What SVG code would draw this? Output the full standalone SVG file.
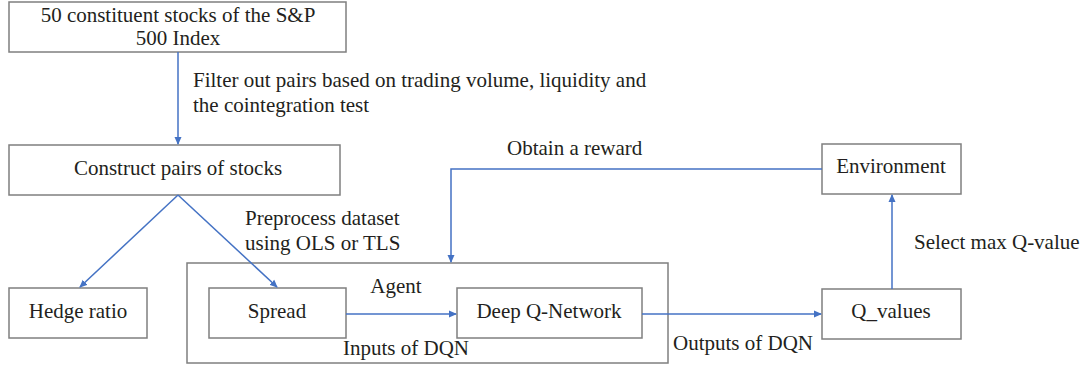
<svg xmlns="http://www.w3.org/2000/svg" width="1084" height="371" viewBox="0 0 1084 371">
<style>
.box{fill:#fff;stroke:#7f7f7f;stroke-width:1.5}
.t{font-family:"Liberation Serif","Times New Roman",serif;font-size:21px;fill:#231f20}
.c{text-anchor:middle}
.ln{fill:none;stroke:#4472c4;stroke-width:1.5}
</style>
<defs>
<marker id="ah" markerWidth="8" markerHeight="8" refX="7" refY="4" orient="auto" markerUnits="userSpaceOnUse">
<path d="M0,0.5 L8,4 L0,7.5 Z" fill="#4472c4"/>
</marker>
</defs>
<rect width="1084" height="371" fill="#fff"/>
<g id="agent">
<rect class="box" x="187" y="263" width="481" height="100"/>
<text class="t c" x="396" y="293">Agent</text>
</g>
<g id="n1">
<rect class="box" x="9" y="2" width="337" height="50"/>
<text class="t c" x="178" y="22">50 constituent stocks of the S&amp;P</text>
<text class="t c" x="178" y="45">500 Index</text>
</g>
<g id="n2">
<rect class="box" x="9" y="145" width="331" height="50"/>
<text class="t c" x="178" y="175">Construct pairs of stocks</text>
</g>
<g id="hedge">
<rect class="box" x="9" y="288" width="138" height="50"/>
<text class="t c" x="78" y="318">Hedge ratio</text>
</g>
<g id="spread">
<rect class="box" x="209" y="288" width="137" height="50"/>
<text class="t c" x="277" y="318">Spread</text>
</g>
<g id="dqn">
<rect class="box" x="457" y="288" width="185" height="50"/>
<text class="t c" x="549" y="318">Deep Q-Network</text>
</g>
<g id="qv">
<rect class="box" x="822" y="289" width="139" height="50"/>
<text class="t c" x="891" y="318">Q_values</text>
</g>
<g id="env">
<rect class="box" x="822" y="144" width="139" height="50"/>
<text class="t c" x="891" y="173">Environment</text>
</g>
<g id="connectors">
<line class="ln" x1="178" y1="52" x2="178" y2="144" marker-end="url(#ah)"/>
<line class="ln" x1="178" y1="195" x2="80" y2="287" marker-end="url(#ah)"/>
<line class="ln" x1="178" y1="195" x2="277" y2="287" marker-end="url(#ah)"/>
<line class="ln" x1="346" y1="314" x2="456" y2="314" marker-end="url(#ah)"/>
<line class="ln" x1="642" y1="314" x2="821" y2="314" marker-end="url(#ah)"/>
<line class="ln" x1="892" y1="289" x2="892" y2="195" marker-end="url(#ah)"/>
<polyline class="ln" points="822,169 451,169 451,262" marker-end="url(#ah)"/>
</g>
<g id="labels">
<text class="t" x="193" y="87">Filter out pairs based on trading volume, liquidity and</text>
<text class="t" x="193" y="112">the cointegration test</text>
<text class="t" x="507" y="155">Obtain a reward</text>
<text class="t" x="245" y="225">Preprocess dataset</text>
<text class="t" x="245" y="250">using OLS or TLS</text>
<text class="t" x="343" y="355">Inputs of DQN</text>
<text class="t" x="673" y="350">Outputs of DQN</text>
<text class="t" x="914" y="249">Select max Q-value</text>
</g>
</svg>
